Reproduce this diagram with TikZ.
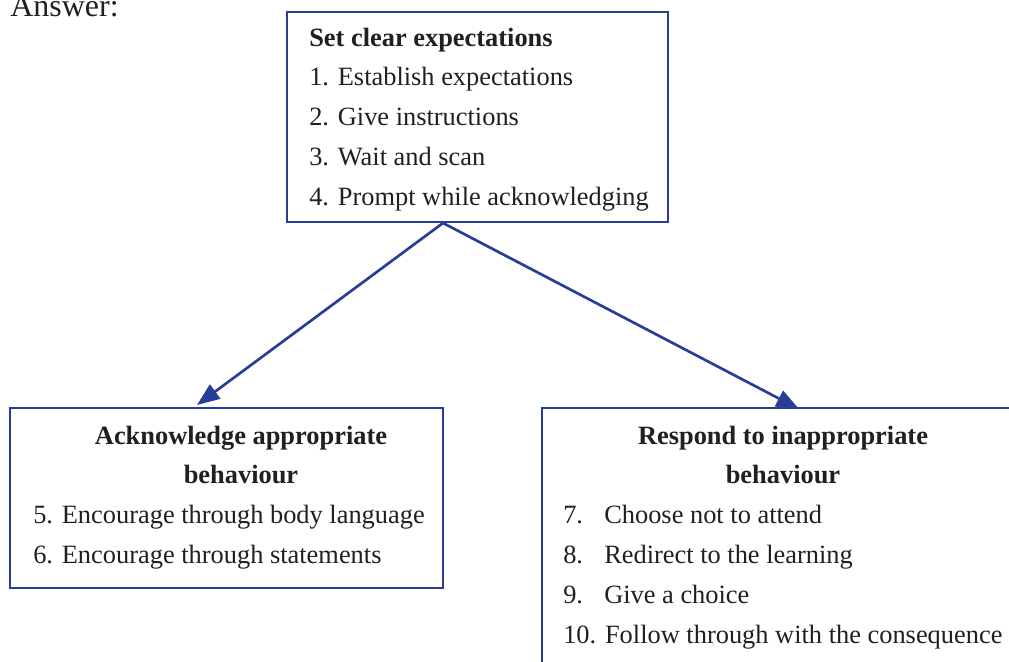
\documentclass[tikz,border=0pt]{standalone}
\usepackage{fontspec}
\setmainfont{Liberation Serif}
\usetikzlibrary{arrows.meta}
\definecolor{frameblue}{RGB}{40,62,150}
\definecolor{inkgrey}{RGB}{35,31,32}
\begin{document}
\begin{tikzpicture}[x=0.75pt,y=-0.75pt,
  panel/.style={draw=frameblue,line width=2pt,rectangle,inner sep=0pt},
  txt/.style={anchor=base west,inner sep=0pt,text=inkgrey,font=\fontsize{19.8}{22}\selectfont},
  head/.style={anchor=base,inner sep=0pt,text=inkgrey,font=\fontsize{19.8}{22}\selectfont\bfseries},
  link/.style={draw=frameblue,line width=2pt,-{Triangle[length=17pt,width=13pt]}}]
\useasboundingbox (0,0) rectangle (1009,661);
\clip (0,0) rectangle (1009,661);
\fill[white] (0,0) rectangle (1009,661);

\node[txt,font=\fontsize{24}{26}\selectfont] (answer) at (10,16) {Answer:};

% top panel
\node[panel,minimum width=381*0.75pt,minimum height=210*0.75pt] (top) at (477.5,117) {};
\node[txt,font=\fontsize{19.8}{22}\selectfont\bfseries] (th) at (309,46) {Set clear expectations};
\node[txt] (t1) at (309,85) {1. Establish expectations};
\node[txt] (t2) at (309,125) {2. Give instructions};
\node[txt] (t3) at (309,165) {3. Wait and scan};
\node[txt] (t4) at (309,205) {4. Prompt while acknowledging};

% left panel
\node[panel,minimum width=433*0.75pt,minimum height=180*0.75pt] (left) at (226.5,498) {};
\node[head] (lh1) at (241,444) {Acknowledge appropriate};
\node[head] (lh2) at (241,483) {behaviour};
\node[txt] (l5) at (33,523) {5. Encourage through body language};
\node[txt] (l6) at (33,563) {6. Encourage through statements};

% right panel (runs past the edges)
\node[panel,minimum width=520*0.75pt,minimum height=300*0.75pt] (right) at (802,558) {};
\node[head] (rh1) at (783,444) {Respond to inappropriate};
\node[head] (rh2) at (783,483) {behaviour};
\node[txt] (r7) at (563,523) {7.};
\node[txt] (r7t) at (604,523) {Choose not to attend};
\node[txt] (r8) at (563,563) {8.};
\node[txt] (r8t) at (604,563) {Redirect to the learning};
\node[txt] (r9) at (563,603) {9.};
\node[txt] (r9t) at (604,603) {Give a choice};
\node[txt] (r10) at (563,643) {10. Follow through with the consequence};

% connectors
\coordinate (fork) at (443,223);
\coordinate (ltip) at (197,405);
\coordinate (rtip) at (799,409);
\draw[link] (fork) -- (ltip);
\draw[link] (fork) -- (rtip);
\end{tikzpicture}
\end{document}
